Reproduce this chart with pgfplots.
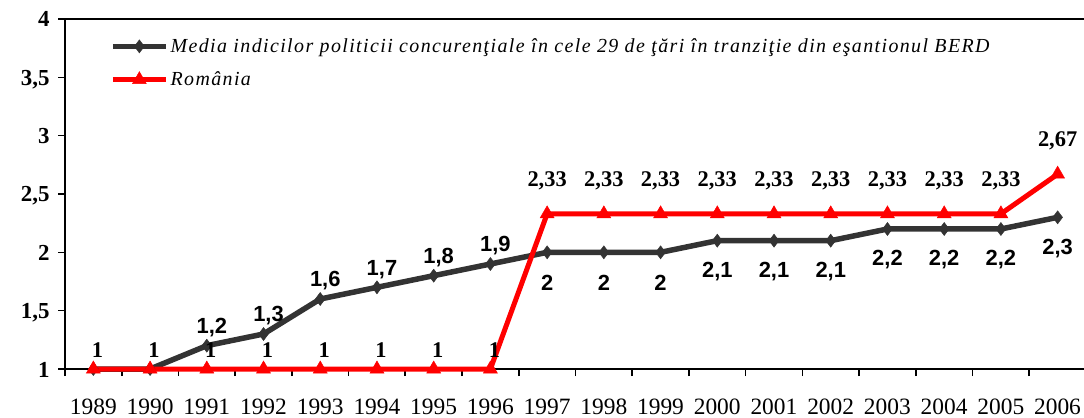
\documentclass[border=0pt]{standalone}
\usepackage{fontspec}
\setmainfont{Liberation Serif}
\newfontfamily\sansb{Liberation Sans}
\newfontfamily\legfont[LetterSpace=7]{Liberation Serif}
\usepackage{pgfplots}
\pgfplotsset{compat=1.18}
\definecolor{darkser}{HTML}{333333}
\definecolor{redser}{HTML}{FF0000}

\pgfplotstableread{
x y l
1991 1.2 {1,2}
1992 1.3 {1,3}
1993 1.6 {1,6}
1994 1.7 {1,7}
1995 1.8 {1,8}
1996 1.9 {1,9}
}\darkabove
\pgfplotstableread{
x y l
1997 2 2
1998 2 2
1999 2 2
2000 2.1 {2,1}
2001 2.1 {2,1}
2002 2.1 {2,1}
2003 2.2 {2,2}
2004 2.2 {2,2}
2005 2.2 {2,2}
2006 2.3 {2,3}
}\darkbelow
\pgfplotstableread{
x y l
1989 1 1
1990 1 1
1991 1 1
1992 1 1
1993 1 1
1994 1 1
1995 1 1
1996 1 1
}\redlow
\pgfplotstableread{
x y l
1997 2.33 {2,33}
1998 2.33 {2,33}
1999 2.33 {2,33}
2000 2.33 {2,33}
2001 2.33 {2,33}
2002 2.33 {2,33}
2003 2.33 {2,33}
2004 2.33 {2,33}
2005 2.33 {2,33}
2006 2.67 {2,67}
}\redhigh

\begin{document}
\begin{tikzpicture}
\begin{axis}[
  scale only axis, width=1021bp, height=350bp,
  xmin=1988.5, xmax=2006.5, ymin=1, ymax=4,
  axis x line=box, axis y line=left,
  axis line style={-, line width=2bp, black},
  xtick pos=bottom, ytick pos=left,
  tick align=outside,
  xtick={1989,...,2006},
  xticklabels={1989,1990,1991,1992,1993,1994,1995,1996,1997,1998,1999,2000,2001,2002,2003,2004,2005,2006},
  minor xtick={1988.5,1989.5,...,2006.5},
  major x tick style={draw=none},
  major tick length=7bp, minor tick length=7bp,
  tick style={black, line width=1.6bp},
  ytick={1,1.5,...,4},
  yticklabels={1,{1,5},2,{2,5},3,{3,5},4},
  yticklabel style={font=\fontsize{23}{27}\selectfont\bfseries, anchor=base east, yshift=-8bp, xshift=-5bp},
  xticklabel style={font=\fontsize{23.5}{27}\selectfont, anchor=base, yshift=-38.5bp},
  clip=false,
  legend style={at={(rel axis cs:0.044,0.95)}, anchor=north west, draw=none, fill=none,
    font={\fontsize{20}{23}\selectfont\legfont\itshape}, row sep=14bp, inner sep=0pt},
  legend cell align=left,
  legend image code/.code={%
    \draw[mark repeat=2,mark phase=2,#1] plot coordinates {(0bp,0bp) (26.5bp,0bp) (53bp,0bp)};},
]
\coordinate (O) at (rel axis cs:0,0);
\addplot[color=darkser, line width=5.5bp, mark=diamond*, mark size=6.5bp, mark options={solid, line width=0.5bp}] table {
x y
1989 1
1990 1
1991 1.2
1992 1.3
1993 1.6
1994 1.7
1995 1.8
1996 1.9
1997 2
1998 2
1999 2
2000 2.1
2001 2.1
2002 2.1
2003 2.2
2004 2.2
2005 2.2
2006 2.3
};
\addlegendentry{Media indicilor politicii concurenţiale în cele 29 de ţări în tranziţie din eşantionul BERD}
\addplot[color=redser, line width=5bp, mark=triangle*, mark size=8bp, mark options={solid, line width=0.5bp}] table {
x y
1989 1
1990 1
1991 1
1992 1
1993 1
1994 1
1995 1
1996 1
1997 2.33
1998 2.33
1999 2.33
2000 2.33
2001 2.33
2002 2.33
2003 2.33
2004 2.33
2005 2.33
2006 2.67
};
\addlegendentry{România}
% labels
\addplot[draw=none, mark=none, forget plot, nodes near coords, point meta=explicit symbolic,
  nodes near coords style={font=\fontsize{22}{26}\selectfont\sansb\bfseries, anchor=center, xshift=5bp, yshift=18bp, text=black}]
  table[meta=l] {\darkabove};
\addplot[draw=none, mark=none, forget plot, nodes near coords, point meta=explicit symbolic,
  nodes near coords style={font=\fontsize{22}{26}\selectfont\sansb\bfseries, anchor=center, yshift=-31bp, text=black}]
  table[meta=l] {\darkbelow};
\addplot[draw=none, mark=none, forget plot, nodes near coords, point meta=explicit symbolic,
  nodes near coords style={font=\fontsize{22.5}{26}\selectfont\bfseries, anchor=center, xshift=4bp, yshift=19bp, text=black}]
  table[meta=l] {\redlow};
\addplot[draw=none, mark=none, forget plot, nodes near coords, point meta=explicit symbolic,
  nodes near coords style={font=\fontsize{22.5}{26}\selectfont\bfseries, anchor=center, yshift=33bp, text=black}]
  table[meta=l] {\redhigh};
\end{axis}
\pgfresetboundingbox
\useasboundingbox (O) ++(-65bp,-49bp) rectangle ++(1084bp,418bp);
\end{tikzpicture}
\end{document}
